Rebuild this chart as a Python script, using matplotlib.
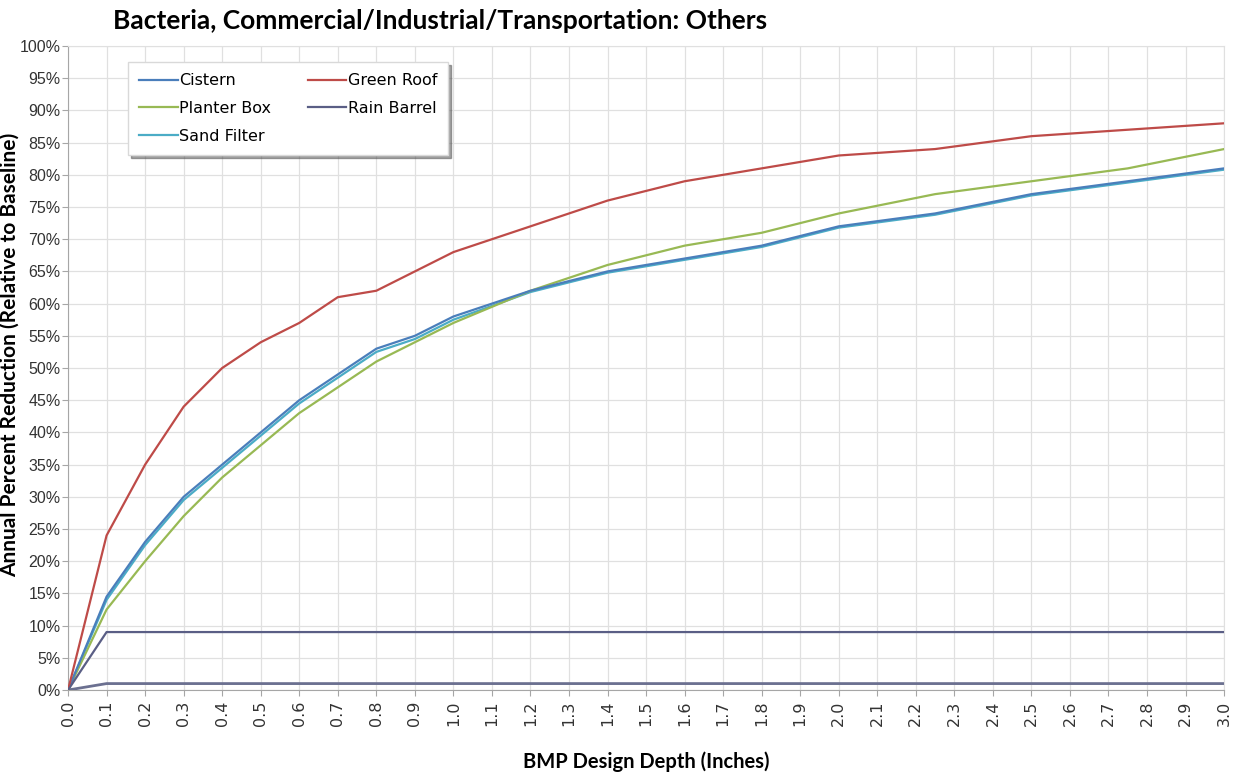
import numpy as np
import matplotlib.pyplot as plt
from matplotlib.ticker import MultipleLocator, FuncFormatter

# Design depth (inches) where the curves have vertices
depth = [0.0, 0.1, 0.2, 0.3, 0.4, 0.5, 0.6, 0.7, 0.8, 0.9, 1.0,
         1.2, 1.4, 1.6, 1.8, 2.0, 2.25, 2.5, 2.75, 3.0]

# Annual percent reduction (%)
cistern = [0, 14.5, 23, 30, 35, 40, 45, 49, 53, 55, 58,
           62, 65, 67, 69, 72, 74, 77, 79, 81]
green_roof = [0, 24, 35, 44, 50, 54, 57, 61, 62, 65, 68,
              72, 76, 79, 81, 83, 84, 86, 87, 88]
planter_box = [0, 12.5, 20, 27, 33, 38, 43, 47, 51, 54, 57,
               62, 66, 69, 71, 74, 77, 79, 81, 84]
sand_filter = [0, 14, 22.5, 29.5, 34.5, 39.5, 44.5, 48.5, 52.5, 54.5, 57.5,
               61.8, 64.8, 66.8, 68.8, 71.8, 73.8, 76.8, 78.8, 80.8]
rain_barrel = [0, 9, 9, 9, 9, 9, 9, 9, 9, 9, 9,
               9, 9, 9, 9, 9, 9, 9, 9, 9]
low_flat = [0, 1, 1, 1, 1, 1, 1, 1, 1, 1, 1,
            1, 1, 1, 1, 1, 1, 1, 1, 1]

x_ticks = [round(0.1 * i, 1) for i in range(31)]

fig = plt.figure(figsize=(12.44, 7.76), dpi=100)
ax = fig.add_axes([0.0547, 0.1108, 0.9293, 0.8299])

lw = 1.6
ax.plot(depth, low_flat, color="#6B7090", lw=2.0, zorder=3)
ax.plot(depth, sand_filter, color="#4BACC6", lw=lw, label="Sand Filter", zorder=3)
ax.plot(depth, planter_box, color="#98B954", lw=lw, label="Planter Box", zorder=4)
ax.plot(depth, cistern, color="#4A7EBB", lw=lw, label="Cistern", zorder=5)
ax.plot(depth, green_roof, color="#BE4B48", lw=lw, label="Green Roof", zorder=5)
ax.plot(depth, rain_barrel, color="#5A5E85", lw=lw, label="Rain Barrel", zorder=5)

ax.set_xlim(0, 3.0)
ax.set_ylim(0, 100)
ax.set_xticks(x_ticks)
ax.set_xticklabels([f"{t:.1f}" for t in x_ticks], rotation=90, fontsize=11.5, color="#333333")
ax.yaxis.set_major_locator(MultipleLocator(5))
ax.yaxis.set_major_formatter(FuncFormatter(lambda v, p: f"{v:.0f}%"))
for lab in ax.get_yticklabels():
    lab.set_family("Liberation Sans")
ax.tick_params(axis="both", color="#A6A6A6", length=4, direction="out")
ax.tick_params(axis="y", labelsize=11.5, labelcolor="#333333", pad=1.5)

ax.grid(True, color="#E0E0E0", lw=0.9)
ax.set_axisbelow(True)
for side in ["left", "bottom"]:
    ax.spines[side].set_color("#A6A6A6")
for side in ["top", "right"]:
    ax.spines[side].set_color("#E0E0E0")

ax.set_ylabel("Annual Percent Reduction (Relative to Baseline)", fontsize=15,
              fontweight="bold", family="Lato")
ax.yaxis.set_label_coords(-0.042, 0.52)
ax.set_xlabel("BMP Design Depth (Inches)", fontsize=14.5, fontweight="bold",
              family="Lato", labelpad=18)
fig.text(0.091, 0.973, "Bacteria, Commercial/Industrial/Transportation: Others",
         fontsize=19, fontweight="bold", family="Lato", va="center", ha="left")

handles, labels = ax.get_legend_handles_labels()
order = ["Cistern", "Planter Box", "Sand Filter", "Green Roof", "Rain Barrel"]
h = [handles[labels.index(n)] for n in order]
leg = ax.legend(h, order, ncol=2, loc="upper left", bbox_to_anchor=(0.052, 0.975),
                borderaxespad=0, frameon=True, fancybox=False, shadow=True,
                handlelength=2.4, handletextpad=0.1, columnspacing=2.3,
                labelspacing=0.8, borderpad=0.7, prop={"size": 11.5})
leg.get_frame().set_edgecolor("#D9D9D9")

fig.savefig("out.png", dpi=100)
